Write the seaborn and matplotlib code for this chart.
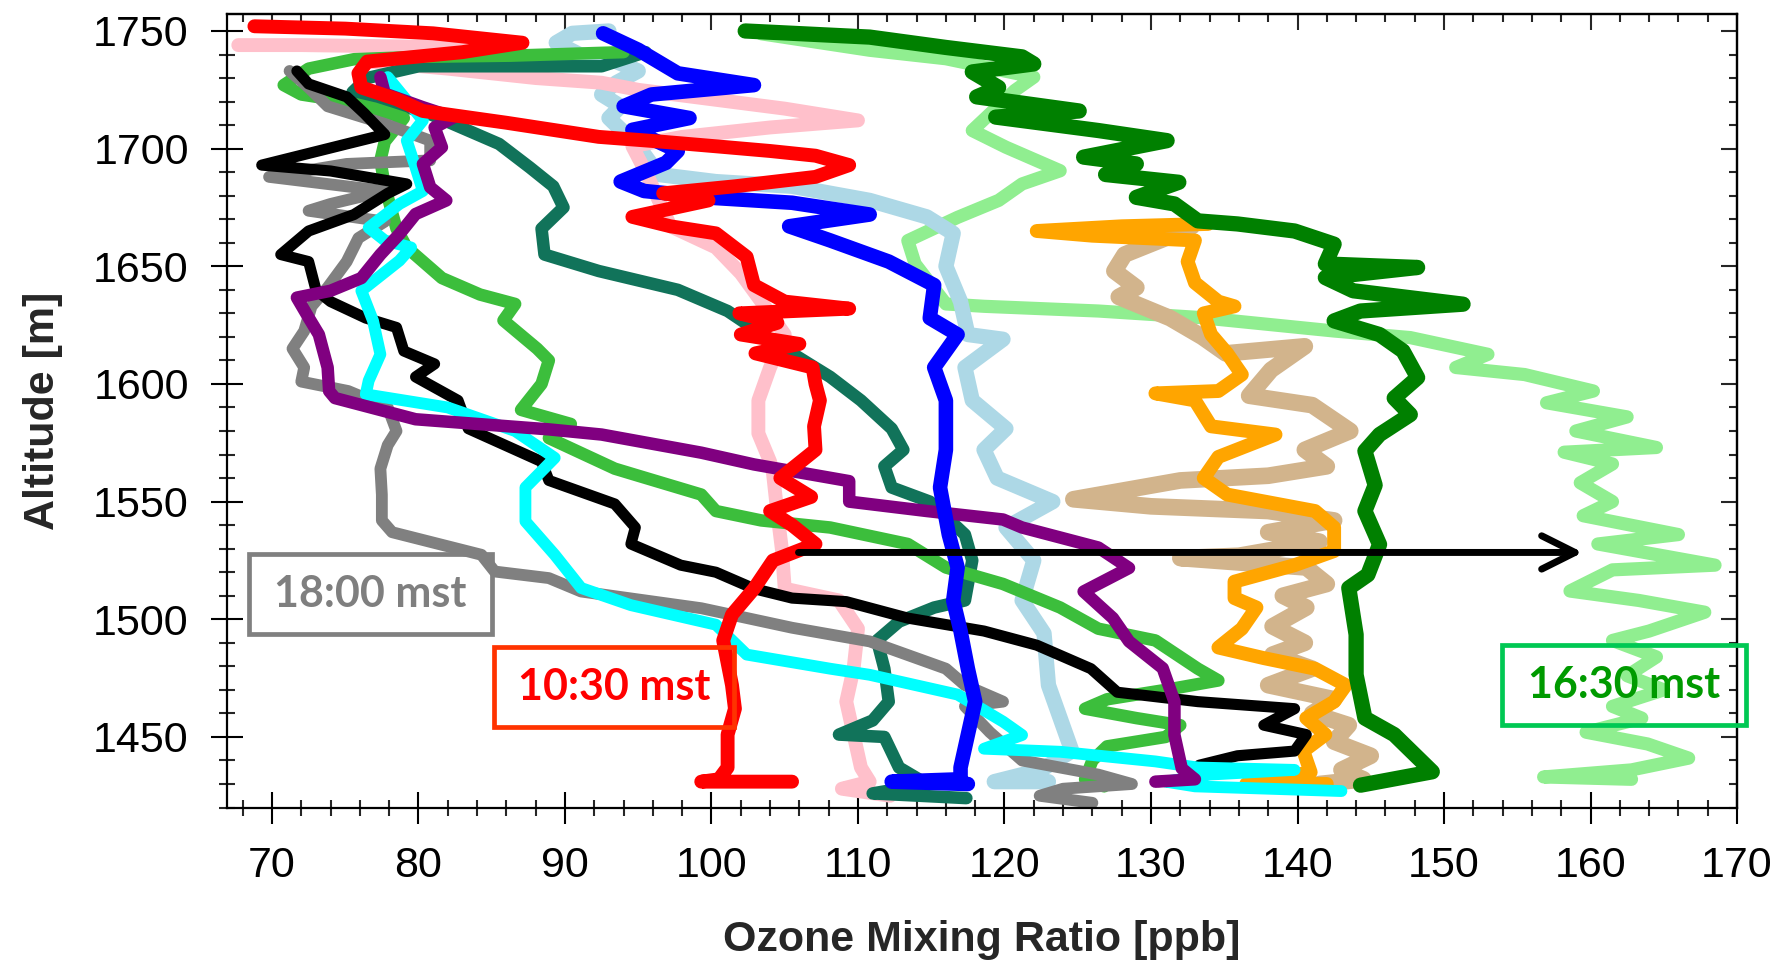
import pandas as pd
import matplotlib
matplotlib.use("Agg")
import matplotlib.pyplot as plt
import seaborn as sns
from matplotlib.patches import Rectangle
from matplotlib.ticker import MultipleLocator, NullFormatter

# ---------------- ozone profiles (ppb) vs altitude (m) ----------------
red_o3 = [68.8, 75.0, 81.0, 87.1, 83.0, 76.5, 75.9, 76.1, 78.5, 80.3, 86.0, 92.3, 96.5, 100.3, 104.0,
          107.1, 109.4, 107.1, 101.6, 96.7, 99.8, 94.6, 97.2, 100.3, 102.4, 102.9, 105.0, 109.4, 101.9,
          104.5, 102.0, 106.0, 103.0, 106.9, 107.1, 107.4, 107.0, 107.1, 104.7, 106.8, 104.0, 105.5,
          107.1, 104.2, 102.9, 101.4, 100.8, 101.4, 101.6, 101.1, 101.1, 100.5, 99.3, 105.5]
red_alt = [1752, 1751, 1749, 1745, 1741, 1737, 1732, 1726, 1721, 1716, 1711, 1705, 1703, 1701, 1699,
           1697, 1693, 1688, 1684, 1681, 1678, 1671, 1667, 1664, 1654, 1642, 1635, 1632, 1630,
           1626, 1621, 1617, 1613, 1607, 1600, 1593, 1582, 1572, 1560, 1552, 1546, 1540,
           1532, 1525, 1513, 1502, 1491, 1472, 1462, 1451, 1437, 1432, 1431, 1431]

pink_o3 = [67.7, 72.0, 78.0, 83.0, 86.3, 80.0, 76.6, 82.0, 88.0, 92.5, 95.0, 100.0, 105.0, 110.0, 104.0,
           98.0, 94.6, 95.6, 96.4, 97.2, 100.3, 102.0, 103.4, 105.0, 104.0, 103.2, 103.2, 104.0, 104.2,
           104.5, 104.8, 105.0, 108.7, 110.0, 109.7, 109.2, 109.7, 110.2, 110.8, 108.9, 112.2]
pink_alt = [1744, 1744, 1743.5, 1743, 1742, 1739, 1737, 1734, 1730, 1728, 1725, 1721, 1717, 1712, 1709,
            1705, 1701, 1689, 1678, 1667, 1658, 1647, 1635, 1621, 1607, 1593, 1579, 1567, 1562,
            1545, 1530, 1513, 1508, 1496, 1479, 1465, 1451, 1437, 1431, 1428, 1425]

lightblue_o3 = [93.0, 90.5, 89.4, 91.0, 93.5, 95.0, 93.5, 92.5, 93.8, 93.0, 94.0, 95.0, 96.4, 100.3, 105.5,
                110.8, 114.7, 116.5, 116.0, 117.0, 117.5, 119.9, 117.3, 117.8, 120.1, 118.6, 119.5, 123.3,
                120.1, 122.0, 121.2, 122.7, 123.0, 123.8, 124.6, 122.5, 119.3, 123.0]
lightblue_alt = [1750, 1749, 1745, 1740, 1737, 1733, 1728, 1723, 1718, 1713, 1707, 1701, 1689, 1686, 1684,
                 1678, 1671, 1664, 1650, 1635, 1621, 1619, 1607, 1593, 1581, 1572, 1560, 1550,
                 1539, 1525, 1508, 1494, 1472, 1458, 1444, 1436, 1431, 1431]

blue_o3 = [92.6, 95.0, 97.7, 102.9, 95.9, 94.0, 98.5, 94.6, 97.7, 96.9, 93.8, 95.4, 100.3, 105.5, 110.8,
           105.3, 108.1, 112.1, 115.2, 114.9, 116.8, 115.2, 116.0, 116.0, 115.6, 116.2, 116.8, 116.5,
           117.0, 117.5, 118.0, 117.5, 117.0, 117.0, 112.3, 117.5]
blue_alt = [1749, 1742, 1732, 1727, 1723, 1718, 1713, 1708, 1699, 1694, 1686, 1682, 1679, 1677, 1672,
            1667, 1661, 1652, 1642, 1628, 1621, 1607, 1593, 1572, 1556, 1536, 1522, 1508,
            1495, 1479, 1465, 1451, 1437, 1432, 1431, 1430]

teal_o3 = [95.5, 92.5, 86.0, 80.0, 76.5, 75.5, 78.0, 80.3, 82.9, 85.5, 87.6, 89.2, 89.9, 88.4, 88.6,
           92.3, 97.7, 101.1, 103.5, 105.5, 108.1, 110.2, 112.3, 113.1, 111.8, 112.3, 114.9, 117.3,
           117.8, 117.3, 115.2, 112.8, 111.3, 111.8, 112.1, 111.0, 108.7, 111.8, 112.8, 114.7, 111.0, 117.4]
teal_alt = [1741, 1735, 1735, 1735, 1730, 1724, 1719, 1716, 1709, 1702, 1692, 1684, 1675, 1666, 1655,
            1648, 1640, 1631, 1621, 1613, 1603, 1593, 1581, 1572, 1565, 1556, 1550, 1536,
            1525, 1508, 1505, 1499, 1491, 1479, 1465, 1457, 1451, 1450, 1437, 1430, 1426, 1424]

lime_o3 = [94.0, 86.3, 80.0, 75.6, 72.5, 70.8, 72.0, 74.6, 77.0, 79.0, 77.7, 77.4, 77.7, 78.5, 79.2,
           81.6, 84.2, 86.6, 85.8, 88.1, 88.9, 88.4, 87.0, 90.4, 88.9, 93.4, 95.0, 99.3, 100.3, 103.4,
           108.1, 113.4, 116.0, 119.9, 123.8, 126.4, 130.3, 133.2, 134.6, 131.0, 127.0, 125.5, 129.0,
           132.0, 131.0, 127.0, 126.0, 125.5, 126.8]
lime_alt = [1741, 1739.5, 1739, 1738, 1734, 1727, 1723, 1720.5, 1717, 1713, 1703, 1695, 1684, 1666, 1658,
            1645, 1638, 1634, 1627, 1615, 1610, 1600, 1589, 1583, 1577, 1564, 1561, 1553, 1546, 1542,
            1539, 1532, 1522, 1515, 1505, 1496, 1491, 1479, 1474, 1470, 1466, 1462, 1458,
            1455, 1450, 1446, 1440, 1432, 1429]

black_o3 = [71.7, 72.5, 75.1, 76.3, 77.7, 75.1, 69.3, 74.0, 79.2, 77.9, 75.6, 72.5, 70.6, 72.5, 73.0,
            74.0, 76.4, 78.5, 79.0, 81.1, 79.8, 82.7, 83.4, 88.4, 88.9, 93.4, 94.8, 94.5, 97.9, 100.3,
            102.9, 105.5, 109.2, 113.4, 118.6, 122.2, 125.9, 127.7, 133.2, 139.8, 137.7, 140.6, 139.8,
            135.9, 133.3, 132.6, 130.5]
black_alt = [1733, 1727.5, 1722, 1715, 1706, 1702, 1693, 1690.5, 1685, 1681, 1672, 1665, 1655, 1652, 1640,
             1635, 1628, 1624, 1614, 1608.5, 1603, 1593, 1581, 1567, 1559, 1549, 1539, 1532, 1523, 1520,
             1513, 1509, 1507.5, 1500.5, 1495, 1489, 1479, 1469, 1465, 1462, 1455, 1451, 1444,
             1442, 1438, 1432, 1431]

gray_o3 = [71.2, 72.5, 73.8, 77.7, 80.8, 80.8, 75.1, 69.8, 77.7, 74.0, 72.5, 77.7, 75.9, 75.1, 73.8,
           72.7, 72.2, 71.4, 72.2, 72.0, 75.2, 77.9, 78.5, 77.9, 77.4, 77.5, 77.5, 78.2, 84.3, 85.2,
           88.9, 91.1, 99.3, 105.5, 110.8, 116.0, 117.3, 119.9, 117.3, 119.0, 121.2, 126.4, 128.7,
           124.0, 122.4, 126.0]
gray_alt = [1733, 1726, 1718, 1710.5, 1703.4, 1695, 1693.5, 1688, 1682, 1676.5, 1673.6, 1669, 1662, 1652, 1641,
            1633, 1622.5, 1615, 1607, 1601, 1597, 1590, 1580, 1574, 1564, 1553, 1542, 1537, 1527.4, 1520.3,
            1517.5, 1511.8, 1504.7, 1496.4, 1490.6, 1479, 1472, 1465, 1463, 1452, 1440, 1434, 1430,
            1428, 1425, 1422]

cyan_o3 = [77.9, 79.2, 80.3, 79.2, 79.8, 80.3, 78.7, 76.6, 77.7, 79.5, 78.7, 76.1, 76.9, 77.4, 76.6,
           76.4, 82.0, 86.6, 89.3, 87.3, 87.3, 89.3, 91.1, 94.5, 100.3, 102.4, 108.1, 110.8, 116.8,
           119.9, 121.2, 118.6, 123.8, 130.3, 133.2, 139.8, 134.0, 131.0, 133.0, 143.0]
cyan_alt = [1730.4, 1720.5, 1712, 1703.4, 1692, 1682, 1676.5, 1666.4, 1661, 1658, 1652.4, 1639.6, 1626.8, 1612.6, 1601.4,
            1595.6, 1590, 1580, 1568.6, 1556, 1541.6, 1527.4, 1513.3, 1506, 1497.7, 1485, 1479, 1476.4, 1468,
            1456.5, 1450.8, 1445, 1443.7, 1439.6, 1437, 1436, 1434, 1431, 1429, 1427]

purple_o3 = [77.4, 77.7, 80.3, 82.4, 81.1, 81.6, 80.3, 80.8, 81.9, 79.8, 78.7, 77.4, 76.1, 74.0, 71.7,
             72.5, 73.2, 73.8, 73.9, 74.3, 79.8, 88.9, 92.5, 99.3, 102.9, 109.4, 109.4, 114.7, 119.9,
             121.2, 126.4, 128.5, 125.4, 127.4, 128.5, 130.8, 131.6, 131.6, 132.1, 133.0, 130.3]
purple_alt = [1730.4, 1723.4, 1717.6, 1713.3, 1709, 1700.6, 1693.5, 1683.6, 1678, 1672.2, 1663.7, 1655, 1645, 1639.6, 1636.7,
              1628.2, 1621, 1607, 1597, 1594, 1585, 1580.7, 1578.5, 1570.8, 1565.8, 1558.7, 1550, 1546, 1542.4,
              1539, 1530.5, 1521.8, 1511.8, 1500.5, 1490.6, 1479.2, 1465, 1450.8, 1436.6, 1432, 1431]

orange_o3 = [133.9, 128.0, 122.2, 126.0, 133.0, 132.5, 133.0, 134.6, 135.7, 133.6, 134.1, 135.2, 136.2, 134.6,
             130.3, 133.0, 134.1, 138.5, 134.6, 133.6, 135.2, 141.2, 142.5, 142.5, 139.8, 135.7, 135.7,
             137.2, 136.2, 134.6, 137.7, 141.2, 143.3, 142.5, 140.6, 141.9, 140.4, 140.9, 136.5, 142.0]
orange_alt = [1668, 1667, 1665, 1663, 1661, 1652, 1643, 1635, 1633, 1630, 1621, 1613, 1604, 1597,
              1596, 1593, 1582, 1578.5, 1569, 1560, 1553, 1546, 1539, 1529, 1523, 1516, 1509,
              1505, 1496, 1488, 1483.5, 1479, 1472, 1465, 1458, 1451, 1444, 1435, 1430, 1430]

tan_o3 = [132.8, 131.0, 128.2, 127.5, 129.0, 127.8, 131.3, 133.5, 135.1, 140.5, 138.2, 136.7, 141.0, 143.6,
          140.5, 142.0, 138.0, 132.0, 124.7, 130.0, 138.0, 142.5, 138.0, 141.5, 136.0, 132.0, 140.6,
          142.0, 139.0, 140.6, 138.3, 140.5, 138.3, 141.0, 138.0, 142.5, 141.0, 143.5, 142.5, 145.0,
          143.0, 144.5, 141.5]
tan_alt = [1667, 1662, 1655, 1648, 1641, 1637, 1628, 1620, 1613, 1616, 1606, 1595, 1591, 1580,
           1572, 1565, 1561, 1559, 1551, 1548, 1546, 1542, 1537, 1533, 1527, 1526, 1522,
           1515, 1510, 1505, 1497, 1490, 1485, 1479, 1472, 1466, 1460, 1455, 1448, 1442,
           1436, 1432, 1430]

darkgreen_o3 = [102.3, 110.8, 116.0, 121.2, 122.0, 117.8, 119.6, 118.1, 125.1, 119.4, 126.4, 131.1, 125.4,
                129.0, 126.9, 131.9, 129.0, 131.6, 133.2, 135.9, 139.8, 142.5, 141.9, 148.2, 141.9, 143.8,
                151.3, 144.3, 142.5, 145.6, 147.2, 148.2, 146.6, 147.7, 145.6, 144.6, 145.3, 144.6, 145.6,
                144.8, 143.5, 144.0, 144.0, 144.6, 146.6, 149.2, 144.3]
darkgreen_alt = [1750, 1747.4, 1743, 1739, 1736, 1732.6, 1726, 1722, 1716, 1713.4, 1707.7, 1703.4, 1696.4,
                 1693.5, 1689, 1685.7, 1679.3, 1676.5, 1669.3, 1668, 1665, 1659.4, 1651, 1649.5, 1645.2, 1639.6,
                 1633.9, 1631, 1626.8, 1621, 1614, 1602.7, 1594, 1587, 1578.5, 1571.5, 1557, 1546, 1531.8,
                 1518.9, 1513.3, 1493.5, 1476.4, 1458, 1451, 1435.2, 1429.5]

lightgreen_o3 = [103.4, 110.8, 116.0, 122.0, 120.7, 117.8, 120.1, 123.8, 121.2, 119.6, 116.8, 113.4, 113.9,
                 116.0, 118.6, 126.4, 133.4, 142.5, 147.7, 153.0, 150.8, 155.5, 160.2, 157.0, 162.5, 159.0,
                 164.5, 158.2, 161.5, 159.3, 161.5, 159.5, 166.0, 160.5, 168.5, 161.5, 158.6, 163.3, 167.8,
                 164.0, 161.5, 164.5, 162.5, 165.0, 161.5, 163.5, 159.7, 163.9, 166.7, 162.8, 156.8, 162.8]
lightgreen_alt = [1748.8, 1741.8, 1738.2, 1730.4, 1724.7, 1707.7, 1700.6, 1690.6, 1685, 1678, 1670.8, 1660.9, 1651,
                  1634, 1633, 1631, 1628.2, 1622.5, 1619.7, 1612.6, 1607, 1604, 1597, 1592, 1586, 1580,
                  1573, 1571, 1566, 1558, 1550, 1544, 1536, 1532, 1523, 1521, 1512, 1508, 1503,
                  1495, 1491, 1484, 1476, 1470, 1463, 1458, 1452, 1447, 1441, 1436, 1433, 1432]

x_ticks = [70, 80, 90, 100, 110, 120, 130, 140, 150, 160, 170]
y_ticks = [1450, 1500, 1550, 1600, 1650, 1700, 1750]

# (label, ozone, altitude, colour, line width) in drawing order, back to front
profiles = [
    ("lightgreen", lightgreen_o3, lightgreen_alt, "#90EE90", 9.5),
    ("tan", tan_o3, tan_alt, "#D2B48C", 12),
    ("orange", orange_o3, orange_alt, "#FFA500", 10),
    ("darkgreen", darkgreen_o3, darkgreen_alt, "#008000", 11),
    ("lightblue", lightblue_o3, lightblue_alt, "#ADD8E6", 11),
    ("pink", pink_o3, pink_alt, "#FFC0CB", 10),
    ("teal", teal_o3, teal_alt, "#11735A", 9),
    ("lime", lime_o3, lime_alt, "#3CBE3C", 9),
    ("gray", gray_o3, gray_alt, "#808080", 8.5),
    ("black", black_o3, black_alt, "#000000", 8),
    ("cyan", cyan_o3, cyan_alt, "#00FFFF", 8.5),
    ("purple", purple_o3, purple_alt, "#800080", 9),
    ("blue", blue_o3, blue_alt, "#0000FF", 10.5),
    ("red", red_o3, red_alt, "#FF0000", 10),
]

sns.set_style("white")
plt.rcParams["font.family"] = ["Liberation Sans", "DejaVu Sans"]

fig = plt.figure(figsize=(17.79, 9.61), dpi=100)
ax = fig.add_axes([0.1276, 0.1592, 0.8488, 0.8262])

for name, o3, alt, color, lw in profiles:
    df = pd.DataFrame({"ozone": o3, "altitude": alt})
    sns.lineplot(data=df, x="ozone", y="altitude", sort=False, estimator=None,
                 color=color, linewidth=lw, ax=ax,
                 solid_joinstyle="round", solid_capstyle="round")

ax.set_xlim(66.93, 170.0)
ax.set_ylim(1419.8, 1757.2)

for sp in ax.spines.values():
    sp.set_visible(True)
    sp.set_color("black")
    sp.set_linewidth(1.6)

ax.set_xticks(x_ticks)
ax.set_yticks(y_ticks)
ax.xaxis.set_minor_locator(MultipleLocator(2))
ax.yaxis.set_minor_locator(MultipleLocator(10))
ax.tick_params(which="major", direction="inout", length=23, width=1.5, labelsize=31, pad=16,
               colors="black", top=False, right=False, bottom=True, left=True)
ax.tick_params(which="minor", direction="inout", length=11, width=1.5,
               top=False, right=False, bottom=True, left=True)

# inward ticks along the top and right frame
secx = ax.secondary_xaxis("top")
secx.set_xticks(x_ticks)
secx.xaxis.set_minor_locator(MultipleLocator(2))
secx.xaxis.set_major_formatter(NullFormatter())
secx.tick_params(which="major", direction="in", length=11.5, width=1.5)
secx.tick_params(which="minor", direction="in", length=5.8, width=1.5)
secy = ax.secondary_yaxis("right")
secy.set_yticks(y_ticks)
secy.yaxis.set_minor_locator(MultipleLocator(10))
secy.yaxis.set_major_formatter(NullFormatter())
secy.tick_params(which="major", direction="in", length=11.5, width=1.5)
secy.tick_params(which="minor", direction="in", length=5.8, width=1.5)
for sec in (secx, secy):
    for sp in sec.spines.values():
        sp.set_linewidth(1.6)

ax.set_xlabel("Ozone Mixing Ratio [ppb]", fontsize=31, fontweight="bold", labelpad=24)
ax.set_ylabel("Altitude [m]", fontsize=31, fontweight="bold", labelpad=22)

# time-of-day callouts
callouts = [
    ("18:00 mst", 68.42, 1493.9, 85.01, 1527.9, "#7F7F7F", "#808080"),
    ("10:30 mst", 85.14, 1454.2, 101.56, 1488.2, "#FF0000", "#FF3300"),
    ("16:30 mst", 153.98, 1454.9, 170.58, 1488.9, "#009A00", "#00C853"),
]
for label, x0, y0, x1, y1, tcolor, ecolor in callouts:
    ax.add_patch(Rectangle((x0, y0), x1 - x0, y1 - y0, fill=False, edgecolor=ecolor,
                           linewidth=3.4, clip_on=False, zorder=20))
    ax.text((x0 + x1) / 2, (y0 + y1) / 2, label, color=tcolor, fontsize=31,
            fontweight="bold", family=["Lato", "DejaVu Sans"],
            ha="center", va="center", zorder=21, clip_on=False)

ax.annotate("", xy=(159.47, 1528.4), xytext=(105.94, 1528.4),
            arrowprops=dict(arrowstyle="->,head_length=1.2,head_width=0.6", lw=5,
                            color="black", shrinkA=0, shrinkB=0, mutation_scale=20),
            zorder=22)

fig.savefig("out.png", dpi=100, facecolor="white")
